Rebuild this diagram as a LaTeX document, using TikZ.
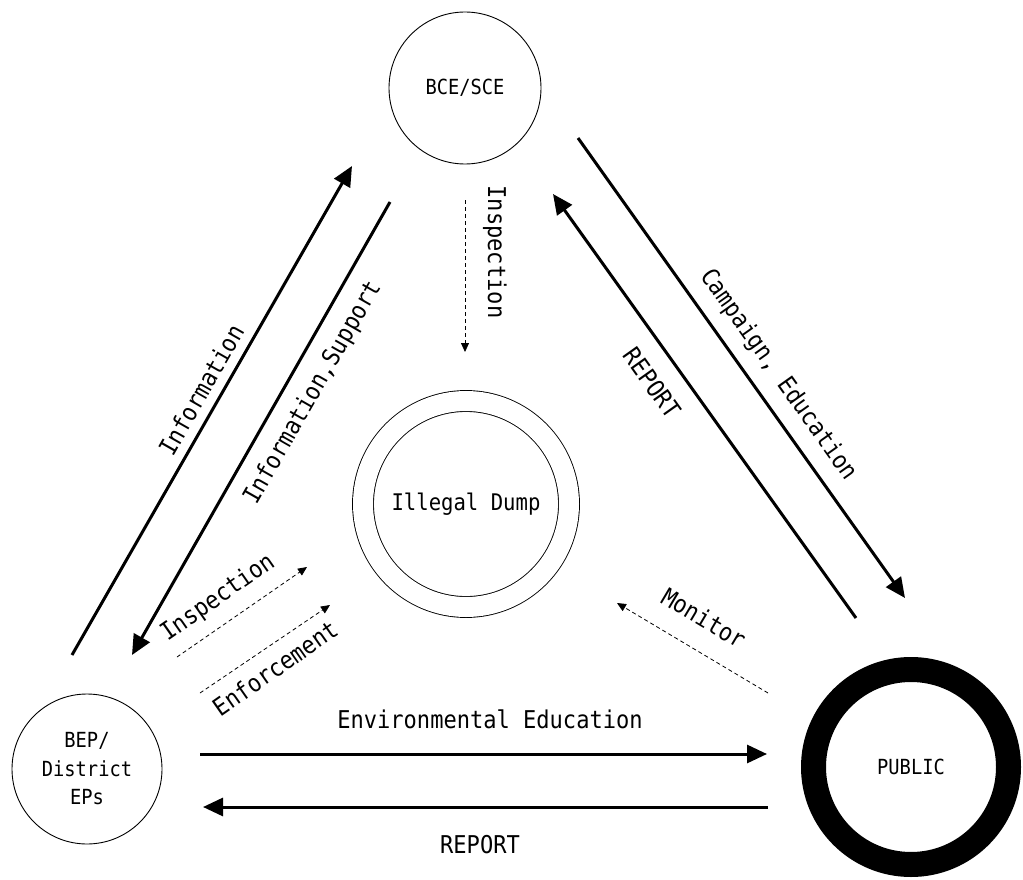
\documentclass[tikz,border=0pt]{standalone}
\usepackage{fontspec}
\newfontfamily\diagfont[FakeStretch=0.9]{DejaVu Sans Mono}
\usetikzlibrary{arrows.meta}
\begin{document}
\begin{tikzpicture}[x=1pt,y=-1pt,
  actor/.style={circle,draw,line width=0.9pt,inner sep=0pt,align=center,
    font=\diagfont\fontsize{20.8}{28.5}\selectfont},
  flow/.style={line width=3pt,-{Triangle[length=20pt,width=18pt]}},
  hint/.style={line width=0.8pt,dash pattern=on 4pt off 3pt,-{Triangle[length=9pt,width=8pt]}},
  lbl/.style={inner sep=0pt,font=\diagfont\fontsize{24.5}{28}\selectfont}]
\useasboundingbox (0,0) rectangle (1023,880);
% actors
\node[actor,minimum size=152] (bce) at (465,88) {BCE/SCE};
\node[actor,minimum size=150] (bep) at (87,769) {BEP/\\District\\EPs};
\node[actor,minimum size=195,line width=25pt] (public) at (911,767) {PUBLIC};
\node[actor,minimum size=206,double,double distance=20pt,
  font=\diagfont\fontsize{22.9}{26}\selectfont] (dump) at (466,504) {Illegal Dump};
% end points of the flows
\coordinate (infoA) at (72,655);   \coordinate (infoB) at (352,166);
\coordinate (suppA) at (390,202);  \coordinate (suppB) at (132,655);
\coordinate (inspA) at (465,200);  \coordinate (inspB) at (465,352);
\coordinate (campA) at (578,138);  \coordinate (campB) at (905,598);
\coordinate (repdA) at (856,618);  \coordinate (repdB) at (553,194);
\coordinate (inslA) at (177,657);  \coordinate (inslB) at (307,567);
\coordinate (enfA) at (200,693);   \coordinate (enfB) at (330,605);
\coordinate (monA) at (768,693);   \coordinate (monB) at (617,603);
\coordinate (eduA) at (200,754);   \coordinate (eduB) at (767,754);
\coordinate (repbA) at (768,807);  \coordinate (repbB) at (203,807);
% flows
\draw[flow] (infoA) -- (infoB);
\draw[flow] (suppA) -- (suppB);
\draw[flow] (campA) -- (campB);
\draw[flow] (repdA) -- (repdB);
\draw[flow] (eduA) -- (eduB);
\draw[flow] (repbA) -- (repbB);
\draw[hint] (inspA) -- (inspB);
\draw[hint] (inslA) -- (inslB);
\draw[hint] (enfA) -- (enfB);
\draw[hint] (monA) -- (monB);
% labels
\node[lbl,rotate=60.3] (infolbl) at (201,390) {Information};
\node[lbl,rotate=60.3] (supplbl) at (313,393) {Information,Support};
\node[lbl,rotate=-90] (insplbl) at (495,252) {Inspection};
\node[lbl,rotate=-54.6] (camplbl) at (778,375) {Campaign, Education};
\node[lbl,rotate=-54.6] (repdlbl) at (652,383) {REPORT};
\node[lbl,rotate=35] (insllbl) at (218,598) {Inspection};
\node[lbl,rotate=35] (enflbl) at (275,668) {Enforcement};
\node[lbl,rotate=-30.8] (monlbl) at (704,618) {Monitor};
\node[lbl] (edulbl) at (490,719) {Environmental Education};
\node[lbl] (repblbl) at (480,845) {REPORT};
\end{tikzpicture}
\end{document}
